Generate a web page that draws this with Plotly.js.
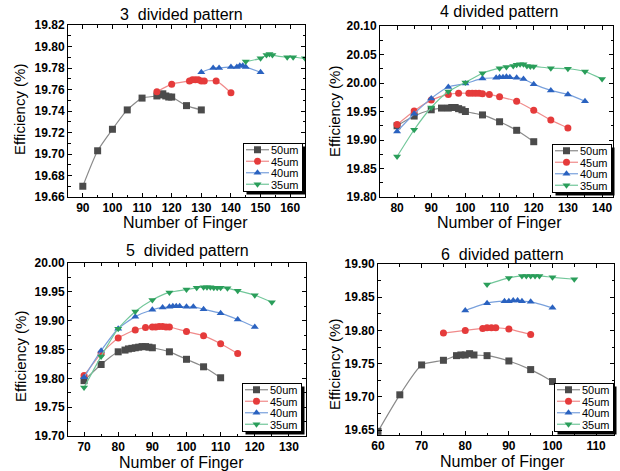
<!DOCTYPE html>
<html>
<head>
<meta charset="utf-8">
<script src="https://cdn.plot.ly/plotly-3.0.1.min.js"></script>
<style>html,body{margin:0;padding:0;background:#fff;}#chart{width:620px;height:471px;}</style>
</head>
<body>
<div id="chart"></div>
<script>
// ---------- DATA ----------
var seriesNames = ["50um", "45um", "40um", "35um"];
var panelTitles = ["3  divided pattern", "4 divided pattern", "5  divided pattern", "6  divided pattern"];

// Panel 1: 3 divided pattern
var p1_x50 = [90, 95, 100, 105, 110, 115, 116, 117, 118, 119, 120, 125, 130];
var p1_y50 = [19.670, 19.703, 19.723, 19.741, 19.752, 19.754, 19.755, 19.756, 19.754, 19.753, 19.753, 19.745, 19.741];
var p1_x45 = [115, 120, 126, 127, 128, 129, 130, 131, 135, 140];
var p1_y45 = [19.758, 19.765, 19.768, 19.769, 19.769, 19.769, 19.768, 19.768, 19.768, 19.757];
var p1_x40 = [130, 134, 136, 140, 142, 143, 144, 145, 150];
var p1_y40 = [19.776, 19.780, 19.780, 19.781, 19.781, 19.782, 19.782, 19.781, 19.776];
var p1_x35 = [145, 150, 152, 153, 154, 159, 161, 165];
var p1_y35 = [19.786, 19.789, 19.792, 19.793, 19.792, 19.790, 19.790, 19.789];

// Panel 2: 4 divided pattern
var p2_x50 = [80, 85, 90, 93, 95, 96, 97, 98, 99, 100, 105, 110, 115, 120];
var p2_y50 = [19.925, 19.942, 19.953, 19.956, 19.956, 19.957, 19.957, 19.955, 19.953, 19.950, 19.944, 19.932, 19.917, 19.897];
var p2_x45 = [80, 85, 90, 95, 98, 101, 102, 103, 104, 105, 107, 110, 115, 120, 125, 130];
var p2_y45 = [19.927, 19.951, 19.970, 19.980, 19.982, 19.982, 19.982, 19.982, 19.982, 19.981, 19.980, 19.976, 19.968, 19.952, 19.935, 19.921];
var p2_x40 = [80, 85, 90, 95, 100, 105, 109, 110, 111, 112, 113, 115, 117, 120, 125, 130, 135];
var p2_y40 = [19.915, 19.946, 19.973, 19.993, 19.999, 20.008, 20.009, 20.010, 20.010, 20.011, 20.010, 20.009, 20.007, 19.998, 19.987, 19.980, 19.968];
var p2_x35 = [80, 85, 90, 95, 100, 105, 110, 112, 114, 115, 116, 117, 118, 119, 120, 125, 130, 135, 140];
var p2_y35 = [19.871, 19.918, 19.957, 19.985, 20.001, 20.017, 20.026, 20.028, 20.030, 20.032, 20.033, 20.033, 20.030, 20.029, 20.029, 20.026, 20.025, 20.020, 20.007];

// Panel 3: 5 divided pattern
var p3_x50 = [70, 75, 80, 82, 83, 84, 85, 86, 87, 88, 89, 90, 95, 100, 105, 110];
var p3_y50 = [19.796, 19.824, 19.846, 19.849, 19.851, 19.852, 19.853, 19.854, 19.855, 19.855, 19.854, 19.853, 19.846, 19.833, 19.820, 19.801];
var p3_x45 = [70, 75, 80, 85, 88, 90, 91, 92, 93, 94, 95, 100, 105, 110, 115];
var p3_y45 = [19.805, 19.843, 19.870, 19.884, 19.888, 19.889, 19.889, 19.890, 19.890, 19.889, 19.889, 19.881, 19.874, 19.860, 19.843];
var p3_x40 = [70, 75, 80, 85, 90, 93, 95, 96, 97, 98, 100, 102, 105, 110, 115, 120];
var p3_y40 = [19.802, 19.848, 19.886, 19.907, 19.919, 19.923, 19.924, 19.925, 19.925, 19.925, 19.924, 19.924, 19.920, 19.913, 19.902, 19.889];
var p3_x35 = [70, 75, 80, 85, 90, 95, 100, 103, 105, 106, 107, 108, 109, 110, 112, 115, 120, 125];
var p3_y35 = [19.784, 19.838, 19.886, 19.916, 19.936, 19.949, 19.954, 19.957, 19.958, 19.958, 19.958, 19.957, 19.957, 19.957, 19.956, 19.952, 19.944, 19.932];

// Panel 4: 6 divided pattern
var p4_x50 = [60, 65, 70, 75, 78, 79, 80, 81, 82, 85, 90, 95, 100, 105];
var p4_y50 = [19.648, 19.703, 19.748, 19.755, 19.762, 19.763, 19.763, 19.765, 19.763, 19.762, 19.754, 19.741, 19.723, 19.700];
var p4_x45 = [75, 80, 84, 85, 86, 87, 90, 95];
var p4_y45 = [19.796, 19.800, 19.803, 19.804, 19.804, 19.804, 19.802, 19.794];
var p4_x40 = [80, 85, 89, 90, 91, 92, 93, 95, 100];
var p4_y40 = [19.830, 19.841, 19.844, 19.844, 19.845, 19.845, 19.844, 19.843, 19.834];
var p4_x35 = [85, 90, 93, 94, 95, 96, 97, 100, 105];
var p4_y35 = [19.869, 19.879, 19.882, 19.882, 19.882, 19.882, 19.882, 19.880, 19.877];

// ---------- STYLE ----------
var W = 620, H = 471;
var FONT = "Liberation Sans, Arial, sans-serif";
var markerColors = ["#4b4b4b", "#e53b3b", "#2a62c0", "#2a9e5a"];
var lineColors = ["#8a8a8a", "#f08a8a", "#78a0dc", "#72c79a"];
var symbols = ["square", "circle", "triangle-up", "triangle-down"];

var panels = [
  {xs: [p1_x50, p1_x45, p1_x40, p1_x35], ys: [p1_y50, p1_y45, p1_y40, p1_y35],
   box: [68, 305, 25, 197], xr: [85, 165], yr: [19.66, 19.82], ydt: 0.02, y0: 19.66, xdt: 10,
   title: [181, 15], xt: [185, 222], yt: [20, 110], leg: [303, 192]},
  {xs: [p2_x50, p2_x45, p2_x40, p2_x35], ys: [p2_y50, p2_y45, p2_y40, p2_y35],
   box: [380, 613, 26, 197], xr: [75, 143.2], yr: [19.80, 20.10], ydt: 0.05, y0: 19.80, xdt: 10,
   title: [499, 12], xt: [500, 222], yt: [335, 112], leg: [612, 193]},
  {xs: [p3_x50, p3_x45, p3_x40, p3_x35], ys: [p3_y50, p3_y45, p3_y40, p3_y35],
   box: [68, 306, 263, 436], xr: [65.3, 135], yr: [19.70, 20.00], ydt: 0.05, y0: 19.70, xdt: 10,
   title: [187, 250], xt: [182, 462], yt: [20, 357], leg: [302, 432]},
  {xs: [p4_x50, p4_x45, p4_x40, p4_x35], ys: [p4_y50, p4_y45, p4_y40, p4_y35],
   box: [378, 614, 264, 435], xr: [60, 114.1], yr: [19.6425, 19.90], ydt: 0.05, y0: 19.65, xdt: 10,
   title: [502, 254], xt: [502, 461], yt: [334, 365], leg: [614, 432]}
];

var data = [];
var layout = {
  width: W, height: H,
  margin: {l: 0, r: 0, t: 0, b: 0},
  paper_bgcolor: "#fff", plot_bgcolor: "#fff",
  showlegend: true,
  font: {family: FONT, color: "#000"},
  annotations: [],
  shapes: []
};

panels.forEach(function (p, i) {
  var n = i + 1;
  var xa = n === 1 ? "x" : "x" + n;
  var ya = n === 1 ? "y" : "y" + n;
  var legName = n === 1 ? "legend" : "legend" + n;
  for (var s = 0; s < 4; s++) {
    data.push({
      type: "scatter", mode: "lines+markers",
      x: p.xs[s], y: p.ys[s], name: seriesNames[s],
      xaxis: xa, yaxis: ya, legend: legName,
      line: {color: lineColors[s], width: 1.2, shape: "spline", smoothing: 0.6},
      marker: {color: markerColors[s], symbol: symbols[s], size: 7, line: {width: 0}},
      cliponaxis: true
    });
  }
  var axCommon = {
    showline: true, linecolor: "#000", linewidth: 1, mirror: "allticks",
    ticks: "inside", ticklen: 4, tickwidth: 1, tickcolor: "#000",
    showgrid: false, zeroline: false,
    tickfont: {family: FONT, size: 12, weight: "bold", color: "#000"},
    minor: {ticks: "inside", ticklen: 2.5, tickcolor: "#000", tickwidth: 1, showgrid: false}
  };
  layout["xaxis" + (n === 1 ? "" : n)] = Object.assign({}, axCommon, {
    domain: [p.box[0] / W, p.box[1] / W], range: p.xr, anchor: ya,
    tickmode: "linear", tick0: 0, dtick: p.xdt,
    minor: Object.assign({}, axCommon.minor, {dtick: p.xdt / 2})
  });
  layout["yaxis" + (n === 1 ? "" : n)] = Object.assign({}, axCommon, {
    domain: [1 - p.box[3] / H, 1 - p.box[2] / H], range: p.yr, anchor: xa,
    tickmode: "linear", tick0: p.y0, dtick: p.ydt, tickformat: ".2f",
    minor: Object.assign({}, axCommon.minor, {dtick: p.ydt / 2})
  });
  layout[legName] = {
    x: p.leg[0] / W, y: 1 - p.leg[1] / H, xanchor: "right", yanchor: "bottom",
    bgcolor: "#fff", bordercolor: "#000", borderwidth: 1,
    font: {family: FONT, size: 11, color: "#000"},
    itemwidth: 30, tracegroupgap: 0
  };
  layout.annotations.push(
    {text: panelTitles[i], x: p.title[0] / W, y: 1 - p.title[1] / H, xref: "paper", yref: "paper",
     showarrow: false, xanchor: "center", yanchor: "middle", font: {family: FONT, size: 16, color: "#000"}},
    {text: "Number of Finger", x: p.xt[0] / W, y: 1 - p.xt[1] / H, xref: "paper", yref: "paper",
     showarrow: false, xanchor: "center", yanchor: "middle", font: {family: FONT, size: 16, color: "#000"}},
    {text: "Efficiency (%)", x: p.yt[0] / W, y: 1 - p.yt[1] / H, xref: "paper", yref: "paper", textangle: -90,
     showarrow: false, xanchor: "center", yanchor: "middle", font: {family: FONT, size: 15, color: "#000"}}
  );
});

// Compact the legends to Origin-style boxes (tight rows, short sample line, drop shadow)
function compactLegends(gd) {
  var NS = "http://www.w3.org/2000/svg";
  panels.forEach(function (p, i) {
    var id = i === 0 ? "legend" : "legend" + (i + 1);
    var g = gd.querySelector("g.infolayer > g." + id);
    if (!g) return;
    var step = 11.5, pad = 1, textX = 27, maxW = 0;
    var items = g.querySelectorAll("g.traces");
    items.forEach(function (t, k) {
      t.setAttribute("transform", "translate(1," + (pad + step * (k + 0.5)) + ")");
      t.querySelectorAll("g.legendlines path").forEach(function (ln) {
        ln.setAttribute("d", "M2,0h23");
      });
      t.querySelectorAll("g.legendpoints path").forEach(function (pt) {
        pt.setAttribute("transform", "translate(13.5,0)");
      });
      t.querySelectorAll("text").forEach(function (tx) {
        tx.setAttribute("x", textX);
        tx.querySelectorAll("tspan").forEach(function (ts) { if (ts.hasAttribute("x")) ts.setAttribute("x", textX); });
        var bw = 0;
        try { bw = tx.getBBox().width; } catch (e) {}
        if (!bw) bw = 26;
        maxW = Math.max(maxW, bw);
      });
    });
    if (!maxW) maxW = 26;
    var w = Math.round(textX + maxW + 4), h = Math.round(pad * 2 + step * items.length);
    var bg = g.querySelector("rect.bg");
    if (bg) {
      bg.setAttribute("x", 0.5); bg.setAttribute("y", 0.5);
      bg.setAttribute("width", w); bg.setAttribute("height", h);
      var sh = g.querySelector("rect.legshadow");
      if (!sh) {
        sh = document.createElementNS(NS, "rect");
        sh.setAttribute("class", "legshadow");
        g.insertBefore(sh, bg);
      }
      sh.setAttribute("x", 3.5); sh.setAttribute("y", 3.5);
      sh.setAttribute("width", w); sh.setAttribute("height", h);
      sh.setAttribute("fill", "#000");
    }
    g.setAttribute("transform", "translate(" + (p.leg[0] - w - 1) + "," + (p.leg[1] - h - 1) + ")");
  });
}

var gd = document.getElementById("chart");
Plotly.newPlot(gd, data, layout, {staticPlot: true, displayModeBar: false}).then(function () {
  compactLegends(gd);
  setTimeout(function () { compactLegends(gd); }, 50);
  setTimeout(function () { compactLegends(gd); }, 300);
  gd.on && gd.on("plotly_afterplot", function () { compactLegends(gd); });
});
</script>
</body>
</html>
